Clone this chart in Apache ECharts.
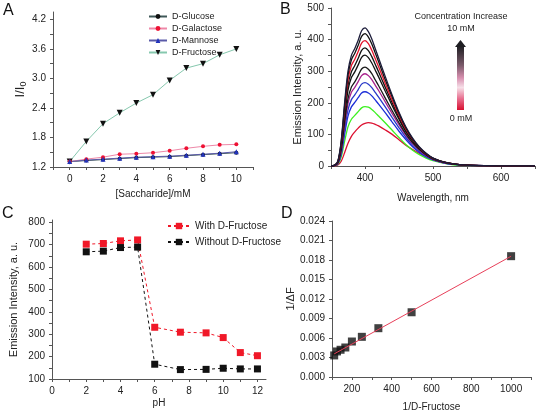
<!DOCTYPE html>
<html><head><meta charset="utf-8">
<script src="https://cdn.jsdelivr.net/npm/echarts@6/dist/echarts.min.js"></script>
<style>html,body{margin:0;padding:0;background:#fff}#c{width:536px;height:414px}</style>
</head><body><div id="c"></div>
<script>
// ---------- Panel A ----------
const saccharideX = [0,1,2,3,4,5,6,7,8,9,10];
const glucose   = [1.31,1.33,1.35,1.37,1.39,1.40,1.41,1.43,1.45,1.47,1.49];
const galactose = [1.31,1.36,1.40,1.46,1.47,1.49,1.53,1.58,1.62,1.65,1.66];
const mannose   = [1.31,1.34,1.36,1.38,1.40,1.41,1.42,1.44,1.46,1.48,1.51];
const fructose  = [1.31,1.72,2.08,2.30,2.50,2.67,2.96,3.21,3.30,3.48,3.60];
const aXLabels = [0,2,4,6,8,10];
const aXTicks  = [-1,0,1,2,3,4,5,6,7,8,9,10,11];
const aYLabels = [1.2,1.8,2.4,3.0,3.6,4.2];
const aYTicks  = [1.2,1.5,1.8,2.1,2.4,2.7,3.0,3.3,3.6,3.9,4.2];

// ---------- Panel B ----------
const wavelength = [350,355,360,365,370,375,380,385,390,395,400,405,410,415,420,430,440,450,460,470,480,490,500,515,530,550,575,600,650];
const spec0  = [0,0,3,15,42,72,94,108,120,130,135,137,136,132,127,114,100,83,66,52,40,30,22,12,6,2,1,0.3,0];
const spec1  = [0,1,5,28,78,124,148,160,172,184,188,186,179,169,158,136,113,90,68,50,36,25,17,9,4,2,1,0.3,0];
const spec2  = [0,1,7,36,100,158,187,201,216,231,235,231,222,209,196,168,139,110,84,61,43,29,19,10,5,2,1,0.5,0];
const spec3  = [0,1,8,42,114,178,210,225,242,259,264,259,248,233,218,186,153,121,91,66,46,31,20,11,6,3,1,0.5,0];
const spec4  = [0,1,9,48,128,198,233,249,267,286,292,286,273,256,239,202,166,131,98,71,50,33,21,11,6,3,1,0.5,0];
const spec5  = [0,1,10,52,138,213,250,266,286,307,313,306,292,273,254,214,175,137,102,74,52,35,22,12,6,3,1,0.5,0];
const spec6  = [0,2,11,60,156,240,280,298,320,344,351,343,326,304,282,236,191,148,109,79,55,36,23,12,6,3,1,0.5,0];
const spec7  = [0,2,12,65,168,256,298,318,341,366,374,365,346,322,298,248,200,154,113,81,56,37,24,13,7,3,1,0.5,0];
const spec8  = [0,2,13,70,180,272,318,338,362,389,397,387,366,340,314,260,208,160,117,84,58,38,24,13,7,3,1,0.5,0];
const spec9  = [0,2,14,76,190,288,336,357,382,410,419,408,386,358,330,272,218,166,121,86,59,39,25,13,7,3,1,0.5,0];
const spec10 = [0,2,15,80,200,300,350,372,398,428,437,425,402,372,342,282,224,170,124,88,60,40,25,13,7,3,1,0.5,0];
const bXLabels = [400,500,600];
const bXTicks  = [350,400,450,500,550,600,650];
const bYLabels = [0,100,200,300,400,500];
const bYTicks  = [0,50,100,150,200,250,300,350,400,450,500];

// ---------- Panel C ----------
const pH = [2,3,4,5,6,7.5,9,10,11,12];
const withFructose    = [702,705,717,721,331,309,306,285,218,204];
const withoutFructose = [668,671,687,689,166,142,143,148,145,145];
const cXLabels = [0,2,4,6,8,10,12];
const cXTicks  = [0,1,2,3,4,5,6,7,8,9,10,11,12];
const cYLabels = [100,200,300,400,500,600,700,800];
const cYTicks  = [100,150,200,250,300,350,400,450,500,550,600,650,700,750,800];

// ---------- Panel D ----------
const invFructose = [111,125,143,167,200,250,333,500,1000];
const invDeltaF   = [0.00332,0.00393,0.00419,0.00454,0.00546,0.00618,0.00751,0.00996,0.01859];
const fitX = [111,1000];
const fitY = [0.00356,0.01858];
const dXLabels = [200,400,600,800,1000];
const dXTicks  = [100,200,300,400,500,600,700,800,900,1000,1100];
const dYLabels = [0,0.003,0.006,0.009,0.012,0.015,0.018,0.021,0.024];
const dYTicks  = [0,0.003,0.006,0.009,0.012,0.015,0.018,0.021,0.024];

const FONT = '"Liberation Sans", Arial, sans-serif';
const zip = (xs, ys) => xs.map((x, i) => [x, ys[i]]);

function axis(o) {
  return {
    type: 'value', gridIndex: o.grid, min: o.min, max: o.max,
    axisLine: {show: true, onZero: false, lineStyle: {color: '#555', width: 1}},
    axisTick: {show: true, inside: false, length: 3, customValues: o.ticks, lineStyle: {color: '#555'}},
    axisLabel: {customValues: o.labels, formatter: o.fmt || (v => String(v)), color: '#222', fontSize: 10, fontFamily: FONT, margin: o.margin || 7},
    splitLine: {show: false},
    name: o.name, nameLocation: 'middle', nameGap: o.gap,
    nameTextStyle: Object.assign({color: '#222', fontSize: 10, fontFamily: FONT}, o.nameStyle || {})
  };
}

const specColors = ['#dc1030','#3cf020','#1c2ed8','#2838c8','#a8228c','#1a1a1a','#111111','#111111','#e4142c','#111111','#1c1c3a'];
const specs = [spec0,spec1,spec2,spec3,spec4,spec5,spec6,spec7,spec8,spec9,spec10];

const option = {
  animation: false,
  backgroundColor: '#fff',
  textStyle: {fontFamily: FONT},
  grid: [
    {left: 53, top: 12, width: 200, height: 155},
    {left: 331, top: 8, width: 204, height: 158},
    {left: 52, top: 220, width: 214, height: 159},
    {left: 332, top: 221, width: 199, height: 156}
  ],
  xAxis: [
    axis({grid: 0, min: -1, max: 11, ticks: aXTicks, labels: aXLabels, name: '[Saccharide]/mM', gap: 22}),
    axis({grid: 1, min: 350, max: 650, ticks: bXTicks, labels: bXLabels, name: 'Wavelength, nm', gap: 27}),
    axis({grid: 2, min: 0, max: 12.5, ticks: cXTicks, labels: cXLabels, name: 'pH', gap: 19}),
    axis({grid: 3, min: 100, max: 1100, ticks: dXTicks, labels: dXLabels, name: '1/D-Fructose', gap: 25})
  ],
  yAxis: [
    axis({grid: 0, min: 1.2, max: 4.35, ticks: aYTicks, labels: aYLabels, fmt: v => v.toFixed(1),
          name: '{a|I/I}{b|0}', gap: 23,
          nameStyle: {rich: {a: {fontSize: 13, fontFamily: FONT, color: '#222'}, b: {fontSize: 9, fontFamily: FONT, color: '#222', verticalAlign: 'bottom', padding: [6,0,0,0]}}}}),
    axis({grid: 1, min: 0, max: 500, ticks: bYTicks, labels: bYLabels, name: 'Emission Intensity, a. u.', gap: 28, nameStyle: {fontSize: 11}}),
    axis({grid: 2, min: 100, max: 810, ticks: cYTicks, labels: cYLabels, name: 'Emission Intensity, a. u.', gap: 33, nameStyle: {fontSize: 11}}),
    axis({grid: 3, min: 0, max: 0.024, ticks: dYTicks, labels: dYLabels, fmt: v => v.toFixed(3), name: '1/\u0394F', gap: 36, nameStyle: {fontSize: 11}})
  ],
  legend: [
    {orient: 'vertical', left: 143, top: 7, itemWidth: 18, itemHeight: 6, itemGap: 3,
     textStyle: {fontSize: 9, color: '#222', fontFamily: FONT},
     data: ['D-Glucose','D-Galactose','D-Mannose','D-Fructose']},
    {orient: 'vertical', left: 162, top: 216, itemWidth: 22, itemHeight: 8, itemGap: 6,
     textStyle: {fontSize: 10, color: '#222', fontFamily: FONT},
     data: ['With D-Fructose','Without D-Fructose']}
  ],
  series: [
    {name: 'D-Fructose', type: 'line', xAxisIndex: 0, yAxisIndex: 0, data: zip(saccharideX, fructose),
     symbol: 'triangle', symbolRotate: 180, symbolSize: 6, lineStyle: {color: '#86c8ae', width: 1}, itemStyle: {color: '#111'}},
    {name: 'D-Glucose', type: 'line', xAxisIndex: 0, yAxisIndex: 0, data: zip(saccharideX, glucose),
     symbol: 'circle', symbolSize: 4, lineStyle: {color: '#3f5858', width: 1}, itemStyle: {color: '#111'}},
    {name: 'D-Galactose', type: 'line', xAxisIndex: 0, yAxisIndex: 0, data: zip(saccharideX, galactose),
     symbol: 'circle', symbolSize: 4, lineStyle: {color: '#ee88a8', width: 1}, itemStyle: {color: '#ee1133'}},
    {name: 'D-Mannose', type: 'line', xAxisIndex: 0, yAxisIndex: 0, data: zip(saccharideX, mannose),
     symbol: 'triangle', symbolSize: 5, lineStyle: {color: '#5a5aa8', width: 1}, itemStyle: {color: '#2233bb'}},

    ...specs.map((s, i) => ({
      name: 'spec' + i, type: 'line', xAxisIndex: 1, yAxisIndex: 1, data: zip(wavelength, s),
      showSymbol: false, smooth: 0.3, lineStyle: {color: specColors[i], width: 1.3}, silent: true
    })),

    {name: 'With D-Fructose', type: 'line', xAxisIndex: 2, yAxisIndex: 2, data: zip(pH, withFructose),
     symbol: 'rect', symbolSize: 7, lineStyle: {color: '#f01828', width: 1, type: [3,3]}, itemStyle: {color: '#f01828'}},
    {name: 'Without D-Fructose', type: 'line', xAxisIndex: 2, yAxisIndex: 2, data: zip(pH, withoutFructose),
     symbol: 'rect', symbolSize: 7, lineStyle: {color: '#111', width: 1, type: [3,3]}, itemStyle: {color: '#111'}},

    {name: 'fit', type: 'line', xAxisIndex: 3, yAxisIndex: 3, data: zip(fitX, fitY),
     showSymbol: false, lineStyle: {color: '#e8405a', width: 1}},
    {name: 'points', type: 'scatter', xAxisIndex: 3, yAxisIndex: 3, data: zip(invFructose, invDeltaF),
     symbol: 'rect', symbolSize: 8, itemStyle: {color: '#111'}}
  ],
  graphic: [
    {type: 'text', left: 3, top: 3, style: {text: 'A', fontSize: 16, fontFamily: FONT, fill: '#111'}},
    {type: 'text', left: 280, top: 2, style: {text: 'B', fontSize: 16, fontFamily: FONT, fill: '#111'}},
    {type: 'text', left: 2, top: 206, style: {text: 'C', fontSize: 16, fontFamily: FONT, fill: '#111'}},
    {type: 'text', left: 281, top: 206, style: {text: 'D', fontSize: 16, fontFamily: FONT, fill: '#111'}},
    {type: 'text', x: 461, y: 17, style: {text: 'Concentration Increase', fontSize: 9, fontFamily: FONT, fill: '#222', align: 'center', verticalAlign: 'middle'}},
    {type: 'text', x: 461, y: 29, style: {text: '10 mM', fontSize: 9, fontFamily: FONT, fill: '#222', align: 'center', verticalAlign: 'middle'}},
    {type: 'text', x: 461, y: 119, style: {text: '0 mM', fontSize: 9, fontFamily: FONT, fill: '#222', align: 'center', verticalAlign: 'middle'}},
    {type: 'rect', shape: {x: 457, y: 46, width: 7, height: 64},
     style: {fill: new echarts.graphic.LinearGradient(0, 0, 0, 1, [
       {offset: 0, color: '#1e1e22'}, {offset: 0.3, color: '#7a5a6a'}, {offset: 0.5, color: '#d890b0'},
       {offset: 0.65, color: '#f6e0e8'}, {offset: 0.82, color: '#e87090'}, {offset: 1, color: '#d81030'}])}},
    {type: 'polygon', shape: {points: [[455, 47], [460.5, 40], [466, 47]]}, style: {fill: '#1e1e22'}}
  ]
};
const chart = echarts.init(document.getElementById('c'));
chart.setOption(option);
</script></body></html>
